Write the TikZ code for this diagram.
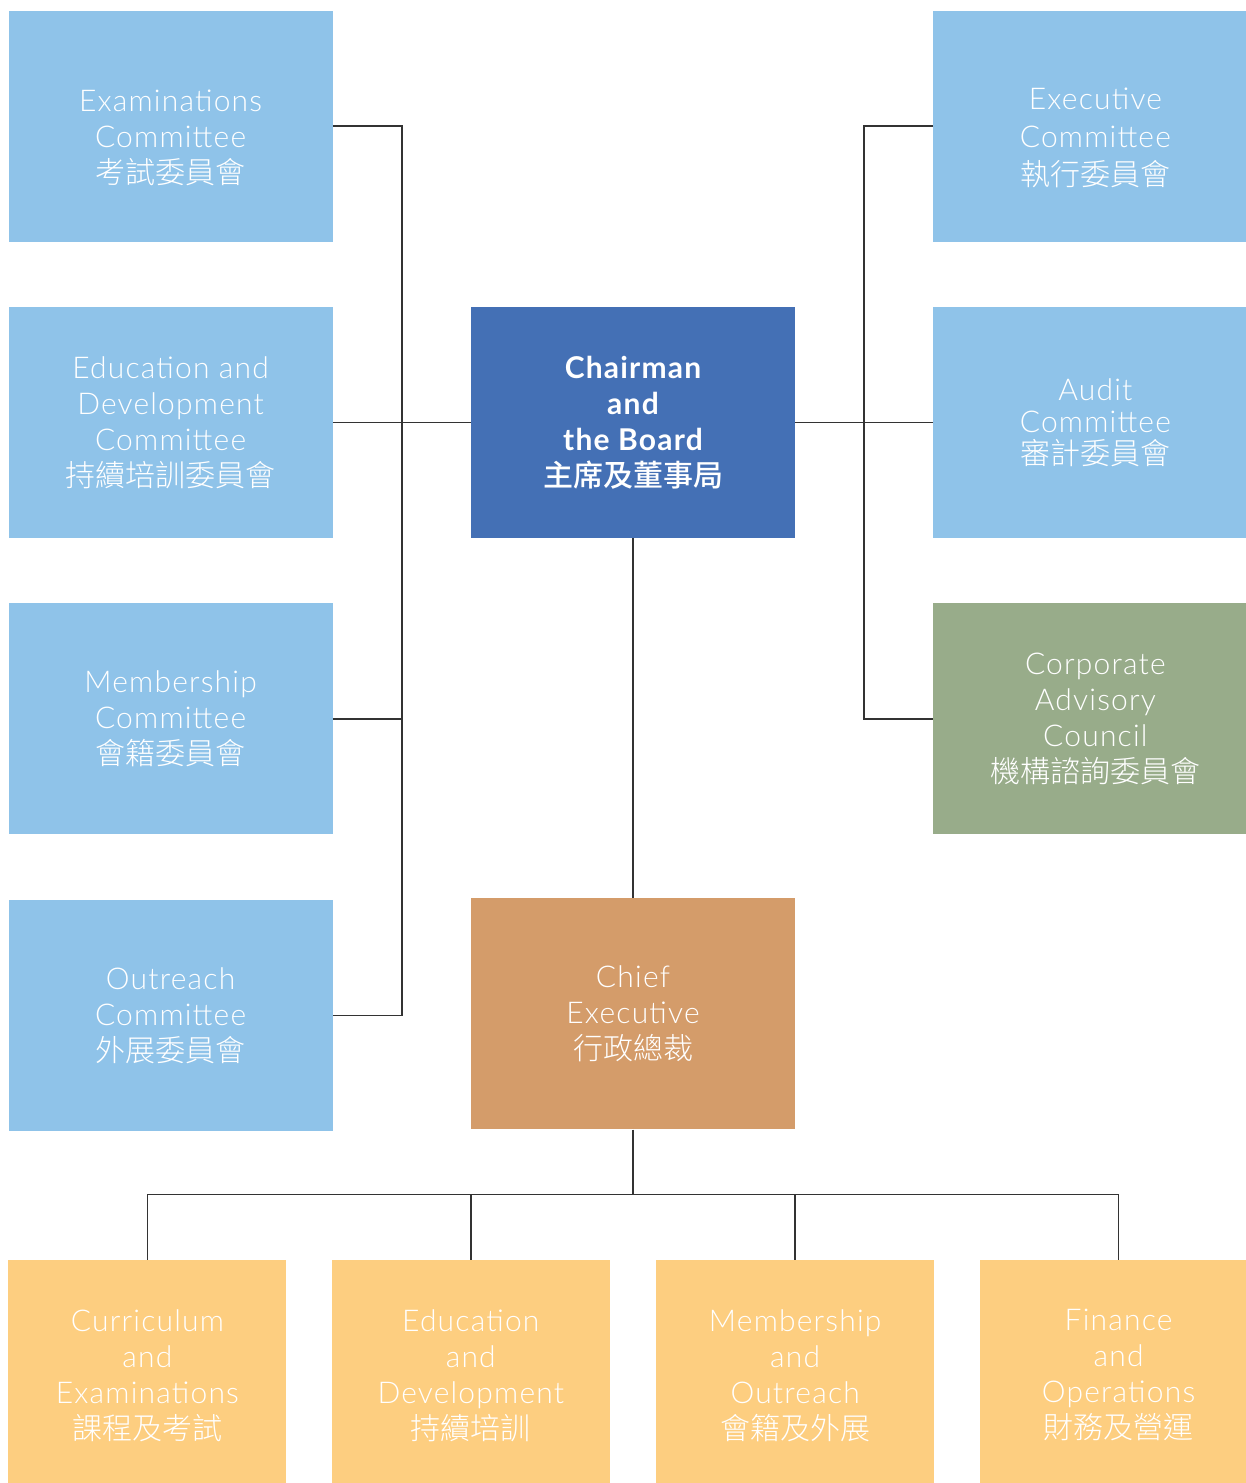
\documentclass[tikz,border=0pt]{standalone}
\usepackage{fontspec}
\setmainfont{Lato}[UprightFont=* Light, BoldFont=* Bold, LetterSpace=4]
\newfontfamily\cjk{Noto Sans CJK TC}[UprightFont=* Light, BoldFont=* Medium]
\usepackage{xcolor}
\usetikzlibrary{positioning}

\definecolor{commblue}{HTML}{8FC3E9}
\definecolor{boardblue}{HTML}{4470B5}
\definecolor{councilgreen}{HTML}{98AC8A}
\definecolor{chieftan}{HTML}{D49C6A}
\definecolor{deptyellow}{HTML}{FDCE80}
\definecolor{linegray}{HTML}{333333}

\begin{document}
\begin{tikzpicture}[
    x=1pt, y=1pt,
    unit/.style={
      minimum width=324pt,
      minimum height=231pt,
      inner sep=0pt,
      align=center,
      text=white,
      font=\fontsize{30}{36}\selectfont
    },
    comm/.style={
      unit,
      fill=commblue
    },
    board/.style={
      unit,
      fill=boardblue,
      font=\fontsize{30}{36}\selectfont\bfseries
    },
    council/.style={
      unit,
      fill=councilgreen
    },
    chief/.style={
      unit,
      fill=chieftan
    },
    dept/.style={
      unit,
      fill=deptyellow,
      minimum width=278pt
    },
    link/.style={
      draw=linegray,
      line width=1.6pt
    }
  ]

    \useasboundingbox (0,0) rectangle (1246,-1483);

    % Board and chief executive
    \node[board] (board) at (633,-422.5) {Chairman\\and\\the Board\\{\cjk 主席及董事局}};
    \node[chief, below=360pt of board] (chief) {Chief\\Executive\\{\cjk 行政總裁}};

    % Committees on the left
    \node[comm, left=138pt of board] (edcom) {Education and\\Development\\Committee\\{\cjk 持續培訓委員會}};
    \node[comm, above=65pt of edcom] (excom) {\rule{0pt}{45pt}Examinations\\Committee\\{\cjk 考試委員會}};
    \node[comm, below=65pt of edcom] (memcom) {Membership\\Committee\\{\cjk 會籍委員會}};
    \node[comm, below=65pt of memcom] (outcom) {Outreach\\Committee\\{\cjk 外展委員會}};

    % Committees on the right
    \node[comm, right=138pt of board] (audit) {Audit\\[-4pt]Committee\\[-4pt]{\cjk 審計委員會}};
    \node[comm, above=65pt of audit] (execom) {\rule{0pt}{45pt}Executive\\[2pt]Committee\\[2pt]{\cjk 執行委員會}};
    \node[council, below=65pt of audit] (cac) {Corporate\\Advisory\\Council\\{\cjk 機構諮詢委員會}};

    % Departments
    \node[dept, below=130pt of chief.south west] (dept2) {Education\\and\\Development\\{\cjk 持續培訓}};
    \node[dept, below=130pt of chief.south east] (dept3) {Membership\\and\\Outreach\\{\cjk 會籍及外展}};
    \node[dept, left=45pt of dept2] (dept1) {Curriculum\\and\\Examinations\\{\cjk 課程及考試}};
    \node[dept, right=45pt of dept3] (dept4) {Finance\\and\\Operations\\{\cjk 財務及營運}};

    % Connectors
    \coordinate[left=69pt of board.west] (ltrunk);
    \coordinate[right=69pt of board.east] (rtrunk);
    \coordinate[below=65pt of chief.south] (bus);

    \draw[link] (edcom) -- (board);
    \draw[link] (excom.east) -| (ltrunk) |- (outcom.east);
    \draw[link] (memcom.east) -- (memcom.east -| ltrunk);

    \draw[link] (audit) -- (board);
    \draw[link] (execom.west) -| (rtrunk) |- (cac.west);

    \draw[link] (board) -- (chief);
    \draw[link] (chief) -- (bus);
    \draw[link] (dept1.north) |- (bus) -| (dept4.north);
    \foreach \d in {dept2, dept3}
      \draw[link] (\d.north) -- (\d.north |- bus);

  \end{tikzpicture}
\end{document}
